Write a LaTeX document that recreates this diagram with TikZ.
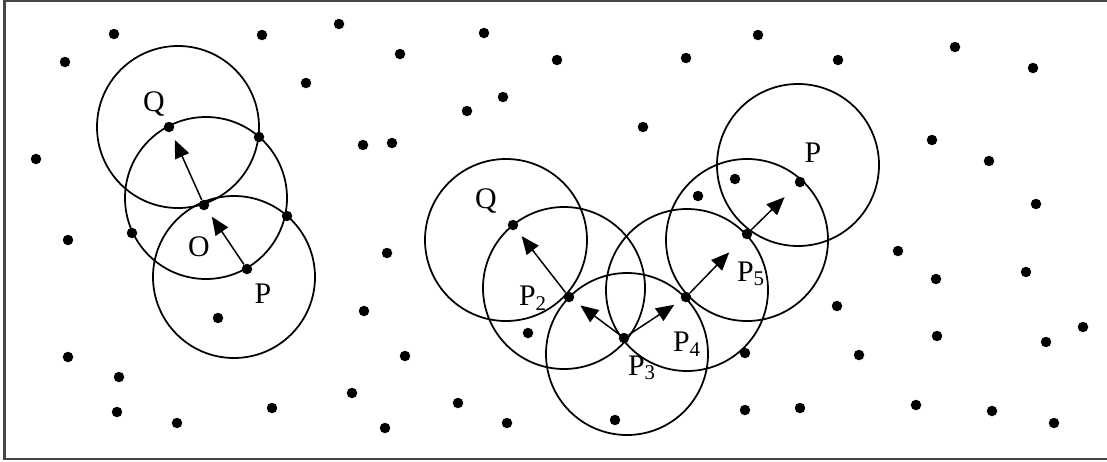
\documentclass[tikz,border=0pt]{standalone}
\usepackage{fontspec}
\setmainfont{Liberation Serif}
\usetikzlibrary{positioning, arrows.meta}
\definecolor{frameGray}{RGB}{70, 70, 70}

\begin{document}
\begin{tikzpicture}[x=0.2mm, y=-0.2mm,
      every node/.style={font=\fontsize{17}{20}\selectfont},
      pt/.style={circle, fill=black, inner sep=0pt, minimum size=2.1mm},
      lbl/.style={inner sep=0pt},
      ring/.style={line width=1pt},
      reach/.style={line width=0.85pt, -{Triangle[length=3.6mm, width=3mm]},
                    shorten >=1.7mm}]
    \useasboundingbox (0,0) rectangle (1107,461);
    \draw[frameGray, line width=1.2pt] (1120,1) -- (4.5,1) -- (4.5,459) -- (1120,459);

    % scattered points
    \foreach \x/\y [count=\i] in {114/34, 65/62, 262/35, 339/24, 306/83, 36/159,
        363/145, 259/137, 287/216, 68/240, 132/233, 218/318, 364/311, 68/357,
        119/377, 117/412, 177/423, 272/408, 352/393, 484/33, 400/54, 557/60,
        686/58, 503/97, 467/111, 392/143, 643/127, 698/196, 735/179, 387/253,
        405/356, 458/403, 385/428, 507/423, 528/333, 615/420, 758/35, 838/60,
        955/47, 1033/68, 932/140, 989/161, 1036/204, 898/251, 936/279, 1026/272,
        837/306, 937/336, 1046/342, 1083/327, 745/353, 859/355, 745/410, 800/408,
        916/405, 992/411, 1054/423}
      \node[pt] (d\i) at (\x,\y) {};

    % neighbourhoods
    \foreach \x/\y in {178/127, 206/198, 234/277, 506/240, 564/288, 627/354,
        687/290, 747/240, 798/165}
      \draw[ring] (\x,\y) circle[radius=81];

    % left chain
    \node[pt] (qa) at (169,127) {};
    \node[pt] (oa) at (204,205) {};
    \node[pt] (pa) at (247,269) {};
    \node[lbl] (qaL) at (154,104) {Q};
    \node[lbl] (oaL) at (199,247) {O};
    \node[lbl] (paL) at (263,294) {P};
    \draw[reach] (pa) -- (oa);
    \draw[reach] (oa) -- (qa);

    % right chain
    \node[pt] (qb) at (513,225) {};
    \node[pt] (p2) at (569,297) {};
    \node[pt] (p3) at (624,338) {};
    \node[pt] (p4) at (686,297) {};
    \node[pt] (p5) at (747,234) {};
    \node[pt] (pb) at (800,182) {};
    \node[lbl] (qbL) at (486,201) {Q};
    \node[lbl] (p2L) at (533,298) {P\textsubscript{2}};
    \node[lbl] (p3L) at (642,368) {P\textsubscript{3}};
    \node[lbl] (p4L) at (687,344) {P\textsubscript{4}};
    \node[lbl] (p5L) at (751,274) {P\textsubscript{5}};
    \node[lbl] (pbL) at (813,153) {P};
    \draw[reach] (p2) -- (qb);
    \draw[reach] (p3) -- (p2);
    \draw[reach] (p3) -- (p4);
    \draw[reach, shorten >=4mm] (p4) -- (p5);
    \draw[reach, shorten >=3.2mm] (p5) -- (pb);
\end{tikzpicture}
\end{document}
